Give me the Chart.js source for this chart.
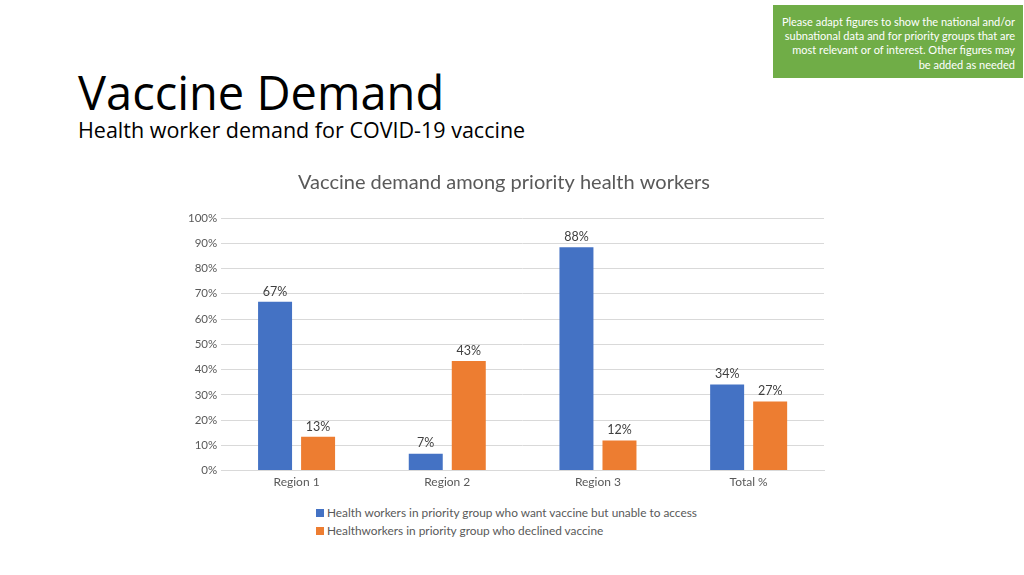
<!DOCTYPE html>
<html>
<head>
<meta charset="utf-8">
<script src="https://cdn.jsdelivr.net/npm/chart.js@4.4.0/dist/chart.umd.min.js"></script>
<style>
  body { margin: 0; width: 1024px; height: 575px; background: #fff; position: relative; overflow: hidden; font-family: "Open Sans", sans-serif; }
  #note { position: absolute; left: 773px; top: 5px; width: 250px; height: 73px; background: #70AD47; color: #fff;
          font-family: Lato, sans-serif; font-size: 11px; line-height: 14.2px; text-align: right; box-sizing: border-box; padding: 10px 8px 0 8px; }
  #head { position: absolute; left: 78px; top: 61px; font-size: 47px; color: #000; line-height: 62px; }
  #sub { position: absolute; left: 78px; top: 115px; font-size: 21.5px; color: #000; line-height: 30px; }
  #wrap { position: absolute; left: 170px; top: 160px; width: 670px; height: 333px; }
  #legend { position: absolute; left: 316px; top: 504px; font-family: Lato, sans-serif; font-size: 11.85px; color: #595959; }
  #legend div { height: 18px; line-height: 18px; white-space: nowrap; }
  #legend span { display: inline-block; width: 8px; height: 8px; margin-right: 3px; }
</style>
</head>
<body>
<div id="note">Please adapt figures to show the national and/or subnational data and for priority groups that are most relevant or of interest. Other figures may be added as needed</div>
<div id="head">Vaccine Demand</div>
<div id="sub">Health worker demand for COVID-19 vaccine</div>
<div id="wrap"><canvas id="grafico"></canvas></div>
<div id="legend"></div>
<script>
var categorias = ['Region 1', 'Region 2', 'Region 3', 'Total %'];
var quiereSinAcceso = [66.8, 6.7, 88.4, 34.1];
var rechazaron = [13.4, 43.4, 11.9, 27.4];
var etiquetasY = ['0%', '10%', '20%', '30%', '40%', '50%', '60%', '70%', '80%', '90%', '100%'];

// etiquetas de valor encima de cada barra
var etiquetasBarras = {
    id: 'etiquetasBarras',
    afterDatasetsDraw: function (chart) {
        var ctx = chart.ctx;
        ctx.save();
        ctx.font = '12.5px Lato, sans-serif';
        ctx.fillStyle = '#404040';
        ctx.textAlign = 'center';
        ctx.textBaseline = 'bottom';
        chart.data.datasets.forEach(function (ds, i) {
            chart.getDatasetMeta(i).data.forEach(function (bar, j) {
                ctx.fillText(Math.round(ds.data[j]) + '%', bar.x, bar.y - 4);
            });
        });
        ctx.restore();
    }
};

const ctx = document.getElementById('grafico');
var myChart = new Chart(ctx, {
    type: 'bar',
    data: {
        labels: categorias,
        datasets: [{
            label: 'Health workers in priority group who want vaccine but unable to access',
            data: quiereSinAcceso,
            backgroundColor: '#4472C4'
        }, {
            label: 'Healthworkers in priority group who declined vaccine',
            data: rechazaron,
            backgroundColor: '#ED7D31'
        }]
    },
    options: {
        responsive: true,
        maintainAspectRatio: false,
        animation: false,
        categoryPercentage: 0.571,
        barPercentage: 0.79,
        layout: { padding: { left: 14, right: 16, bottom: 0 } },
        plugins: {
            legend: { display: false },
            tooltip: { enabled: false },
            title: {
                display: true,
                text: 'Vaccine demand among priority health workers',
                color: '#595959',
                font: { family: 'Lato, sans-serif', size: 20, weight: 'normal' },
                padding: { top: 11, bottom: 23 }
            }
        },
        scales: {
            x: {
                grid: { display: false, drawTicks: false },
                border: { color: '#D9D9D9' },
                ticks: { color: '#595959', font: { family: 'Lato, sans-serif', size: 12 }, padding: 4 }
            },
            y: {
                min: 0,
                max: 100,
                beginAtZero: true,
                grid: { color: '#D9D9D9', drawTicks: false },
                border: { display: false },
                ticks: {
                    stepSize: 10,
                    color: '#595959',
                    font: { family: 'Lato, sans-serif', size: 11.5 },
                    padding: 4,
                    callback: function (v, i) { return etiquetasY[i]; }
                }
            }
        }
    },
    plugins: [etiquetasBarras]
});

var leyenda = document.getElementById('legend');
myChart.data.datasets.forEach(function (ds) {
    var fila = document.createElement('div');
    fila.innerHTML = '<span style="background:' + ds.backgroundColor + '"></span>' + ds.label;
    leyenda.appendChild(fila);
});
</script>
</body>
</html>
